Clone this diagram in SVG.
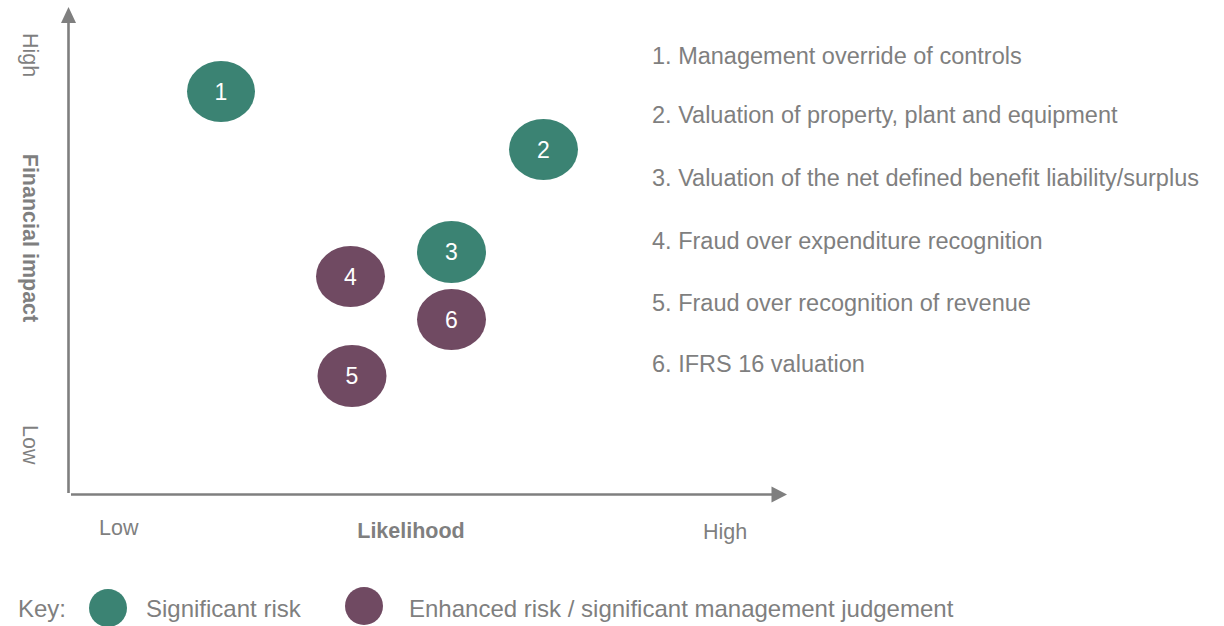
<svg xmlns="http://www.w3.org/2000/svg" width="1224" height="626" viewBox="0 0 1224 626">
<style>
  text { font-family: "Liberation Sans", Arial, sans-serif; fill: #7f7f7f; }
  .axis { stroke: #7f7f7f; stroke-width: 2.6; fill: none; }
  .head { fill: #7f7f7f; }
  .sig { fill: #3b8373; }
  .enh { fill: #704a62; }
  .num { fill: #ffffff; font-size: 23px; text-anchor: middle; }
  .list { font-size: 23.5px; }
  .lbl { font-size: 21.5px; }
  .bold { font-weight: bold; }
  .key { font-size: 24px; }
</style>
<rect width="1224" height="626" fill="#ffffff"/>
<g id="axes">
  <line class="axis" x1="68.5" y1="21" x2="68.5" y2="493"/>
  <polygon class="head" points="68.5,7 61,23 76,23"/>
  <line class="axis" x1="71" y1="494.5" x2="773" y2="494.5"/>
  <polygon class="head" points="787,494.5 771.5,486.5 771.5,502.5"/>
</g>
<g id="axis-labels">
  <text class="lbl" transform="translate(23,33) rotate(90)">High</text>
  <text class="lbl bold" transform="translate(23,238) rotate(90)" text-anchor="middle">Financial impact</text>
  <text class="lbl" transform="translate(23,425) rotate(90)">Low</text>
  <text class="lbl" x="99" y="535">Low</text>
  <text class="lbl bold" x="411" y="538" text-anchor="middle">Likelihood</text>
  <text class="lbl" x="703" y="539">High</text>
</g>
<g id="node-1"><ellipse class="sig" cx="221" cy="91.5" rx="34" ry="30.5"/><text class="num" x="221" y="99.5">1</text></g>
<g id="node-2"><ellipse class="sig" cx="543.5" cy="149.5" rx="34.5" ry="30.5"/><text class="num" x="543.5" y="157.5">2</text></g>
<g id="node-3"><ellipse class="sig" cx="451.5" cy="252" rx="34.5" ry="31"/><text class="num" x="451.5" y="260">3</text></g>
<g id="node-4"><ellipse class="enh" cx="350.5" cy="276.5" rx="34.5" ry="30.5"/><text class="num" x="350.5" y="284.5">4</text></g>
<g id="node-5"><ellipse class="enh" cx="352" cy="376" rx="34.5" ry="31"/><text class="num" x="352" y="384">5</text></g>
<g id="node-6"><ellipse class="enh" cx="451.5" cy="319.5" rx="34.5" ry="30.5"/><text class="num" x="451.5" y="327.5">6</text></g>
<g id="connectors"></g>
<g id="legend-list">
  <text class="list" x="652" y="64">1. Management override of controls</text>
  <text class="list" x="652" y="123">2. Valuation of property, plant and equipment</text>
  <text class="list" x="652" y="186">3. Valuation of the net defined benefit liability/surplus</text>
  <text class="list" x="652" y="249">4. Fraud over expenditure recognition</text>
  <text class="list" x="652" y="311">5. Fraud over recognition of revenue</text>
  <text class="list" x="652" y="372">6. IFRS 16 valuation</text>
</g>
<g id="key">
  <text class="key" x="18" y="617">Key:</text>
  <circle class="sig" cx="108" cy="608" r="19"/>
  <text class="key" x="146" y="617">Significant risk</text>
  <circle class="enh" cx="364" cy="606" r="19"/>
  <text class="key" x="409" y="617">Enhanced risk / significant management judgement</text>
</g>
</svg>
